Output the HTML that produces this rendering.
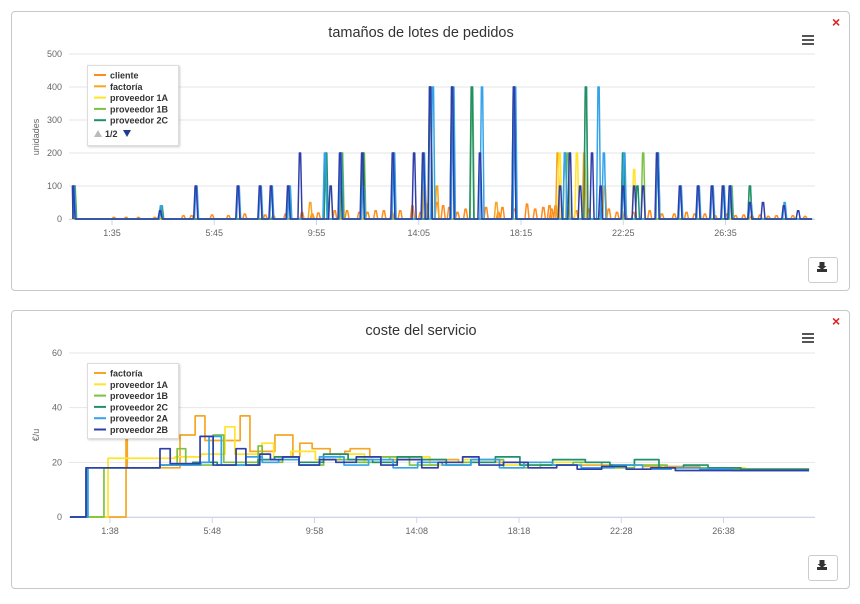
<!DOCTYPE html>
<html><head><meta charset="utf-8">
<style>
body{margin:0;background:#fff;font-family:"Liberation Sans",sans-serif;}
.panel{position:absolute;left:11px;width:837px;border:1px solid #c8c8c8;border-radius:4px;background:#fff;}
.close{position:absolute;color:#d22;font-size:14px;font-weight:bold;}
.dl{position:absolute;width:28px;height:24px;border:1px solid #ccc;border-radius:3px;background:#fff;}
svg{position:absolute;left:0;top:0;}
</style></head>
<body>
<div class="panel" style="top:11px;height:278px"></div>
<div class="panel" style="top:310px;height:277px"></div>
<div class="close" style="left:832px;top:14px">×</div>
<div class="close" style="left:832px;top:313px">×</div>
<div class="dl" style="left:808px;top:257px"></div>
<div class="dl" style="left:808px;top:555px"></div>
<svg id="s" width="860" height="604"></svg>
<script>
// ---- top chart data (minutes, units) ----
const topNames=["cliente","factoría","proveedor 1A","proveedor 1B","proveedor 2C","proveedor 2A","proveedor 2B"];
const topColors=["#ff8c1a","#f5a623","#ffe42a","#7cc242","#1f8f6e","#34a3ea","#2f3ea8"];
const clienteT=[100,130,160,200,270,290,340,380,420,470,490,520,560,585,600,640,670,700,720,740,760,780,800,830,850,865,890,905,920,940,960,1010,1040,1050,1080,1110,1130,1150,1165,1170,1180,1210,1230,1260,1290,1310,1330,1350,1370,1410,1440,1470,1500,1520,1545,1570,1600,1620,1640,1660,1680,1700,1720,1760,1790];
const clienteV=[5,5,5,5,10,10,12,10,15,12,10,15,20,15,18,25,25,20,20,25,25,20,25,40,20,45,50,40,35,20,30,35,20,35,30,45,30,35,40,30,40,30,25,30,25,30,20,25,20,25,15,15,20,15,15,10,15,10,12,10,12,8,10,10,8];
const factT=[580,860,890,1035,1185,1250,1300];
const factV=[50,100,100,50,200,200,100];
const p1aT=[1190,1232,1372];
const p1aV=[200,200,150];
const p1bT=[4,217,658,711,873,976,1210,1254,1394,1610,1655];
const p1bV=[100,40,200,200,400,400,200,400,200,100,100];
const p2cT=[3,216,527,619,656,709,784,874,927,975,1078,1203,1254,1345,1380,1430,1608,1655];
const p2cV=[100,40,100,200,200,200,200,400,400,400,400,200,400,200,100,200,100,100];
const p2aT=[2,215,302,405,459,486,530,616,655,710,785,858,880,930,1000,1081,1203,1285,1298,1348,1430,1486,1530,1564,1591,1608,1657,1740];
const p2aV=[100,40,100,100,100,100,100,200,200,100,200,200,400,400,400,400,200,400,200,200,200,100,100,100,100,100,50,50];
const p2bT=[0,213,300,403,457,484,526,555,630,653,707,782,834,856,873,927,995,1078,1191,1215,1240,1269,1290,1345,1372,1394,1428,1484,1528,1562,1589,1606,1655,1687,1738,1773];
const p2bV=[100,25,100,100,100,100,100,200,100,200,200,200,200,200,400,400,200,400,100,200,100,200,100,100,100,100,200,100,100,100,100,100,50,50,40,25];
const topTicksY=[0,100,200,300,400,500];
const topTicksX=["1:35","5:45","9:55","14:05","18:15","22:25","26:35"];
// ---- bottom chart data (minutes, €/u), step series ----
const botNames=["factoría","proveedor 1A","proveedor 1B","proveedor 2C","proveedor 2A","proveedor 2B"];
const botColors=["#f5a623","#ffe42a","#7cc242","#1f8f6e","#34a3ea","#2f3ea8"];
const factST=[0,137,140,269,306,330,379,416,440,469,501,545,562,592,636,672,685,733,782,856,950,1051,1150,1296,1400,1540,1650,1807];
const factSV=[0,30,18,30,37,28,28,37,24,24,30,22,27,25,23,24,25,22,21,21,20,20,19,19,18.5,18,17.5,17.5];
const p1aST=[0,93,257,320,379,403,460,469,498,540,600,660,720,800,880,960,1050,1150,1250,1350,1450,1550,1650,1807];
const p1aSV=[0,21.5,22,23,33,23,23,27,22,24,21,23,20,22,19,21,19,20,18,19,18,18,17.5,17.5];
const p1bST=[0,83,220,262,283,350,376,400,460,470,520,560,620,700,760,830,900,980,1060,1150,1230,1300,1380,1460,1560,1660,1807];
const p1bSV=[0,18,19,25,19,30,20,20,26,20,22,19,21,20,22,19,20,21,18,19,20,18,19,18,17.5,17.5,17.5];
const p2cST=[0,42,220,300,360,460,500,560,620,680,740,800,860,920,980,1040,1100,1180,1260,1320,1380,1440,1500,1560,1640,1720,1807];
const p2cSV=[0,18,19,20,19,21,22,20,23,21,20,22,21,19,20,22,19,21,20,19,21,18,19,18,17.5,17.5,17.5];
const p2aST=[0,44,220,320,340,370,430,470,510,560,610,670,730,790,850,910,980,1050,1110,1180,1250,1330,1400,1470,1540,1620,1700,1807];
const p2aSV=[0,18,19,20,29.5,19,22,20,21,19,22,19,21,18,20,19,21,18,20,19,18,19,17.5,18,17.5,17,17,17];
const p2bST=[0,39,220,245,318,350,406,430,464,490,520,560,610,650,700,760,800,860,900,960,1000,1060,1120,1190,1240,1300,1360,1420,1480,1560,1640,1720,1807];
const p2bSV=[0,18,25,19.5,29.5,19,25,19,23,21,22,19,21,20,22,19,21,18,20,22,19,20,18,19,17.5,18.5,17.5,18,17,17,17,17,17];
const botTicksY=[0,20,40,60];
const botTicksX=["1:38","5:48","9:58","14:08","18:18","22:28","26:38"];

const NS="http://www.w3.org/2000/svg",S=document.getElementById('s');
function el(t,a,txt){const e=document.createElementNS(NS,t);for(const k in a)e.setAttribute(k,a[k]);if(txt!==undefined)e.textContent=txt;S.appendChild(e);return e;}
function chart(o){
  const x=t=>o.x0+t*o.kx, y=v=>o.y0-(v/o.ymax)*(o.y0-o.yTop);
  o.ticksY.forEach(v=>{const g=el('line',{x1:69,x2:815,y1:y(v),y2:y(v),stroke:'#e6e6e6'});
    
    const t=el('text',{x:62,y:y(v)+3,'text-anchor':'end','font-size':9,fill:'#666'},v);
    });
  const ax=el('line',{x1:69,x2:815,y1:o.y0+0.5,y2:o.y0+0.5,stroke:'#ccd6eb'});
  
  o.ticksX.forEach((s,i)=>{const tx=o.tx0+i*250*o.kx;
    el('line',{x1:tx,x2:tx,y1:o.y0,y2:o.y0+6,stroke:'#ccd6eb'});
    const t=el('text',{x:tx,y:o.y0+17,'text-anchor':'middle','font-size':9,fill:'#666'},s);
    });
  const yt=el('text',{transform:`translate(39,${o.ytY}) rotate(-90)`,'text-anchor':'middle','font-size':9,fill:'#666'},o.ytitle);
  
  const ti=el('text',{x:421,y:o.titleY,'text-anchor':'middle','font-size':14.5,fill:'#333'},o.title);
  
  o.series.forEach((s,i)=>{let d='';
    if(o.spike){d=`M${x(0)},${y(0)}`;s[0].forEach((t,j)=>{const v=s[1][j];
      d+=` L${x(Math.max(0,t-5))},${y(0)} L${x(t-1.5)},${y(v)} L${x(t+1.5)},${y(v)} L${x(t+5)},${y(0)}`;});
      d+=` L${x(o.tEnd)},${y(0)}`;}
    else{s[0].forEach((t,j)=>{const v=s[1][j];
      if(j==0)d=`M${x(t)},${y(v)}`;else d+=` L${x(t)},${y(s[1][j-1])} L${x(t)},${y(v)}`;});}
    const p=el('path',{d:d,fill:'none',stroke:o.colors[i],'stroke-width':o.spike?1.5:1.7,'stroke-linejoin':'round'});
    });
  for(let k=0;k<3;k++)el('rect',{x:802,y:o.titleY-2+k*4,width:12,height:2,fill:'#555'});
  const L=o.legend;
  const lb=el('rect',{x:87.5,y:L.y+0.5,width:91,height:L.h,fill:'#fff',stroke:'#ddd',style:'filter:drop-shadow(1px 1px 1px rgba(0,0,0,0.2))'});
  
  L.names.forEach((n,i)=>{const yy=L.y+10+i*11.3;
    el('line',{x1:94,x2:106,y1:yy,y2:yy,stroke:L.colors[i],'stroke-width':2});
    const t=el('text',{x:110,y:yy+3.5,'font-size':9,'font-weight':'bold',fill:'#333'},n);
    });
  const dy=o.dlY;el('rect',{x:817,y:dy+11,width:10,height:3,fill:'#333'});
  el('path',{d:`M819.5,${dy+4} h5 v4 h2 l-4.5,4 l-4.5,-4 h2 z`,fill:'#333'});
}
chart({x0:73,kx:0.409,y0:219,yTop:54,ymax:500,tx0:112,ticksY:topTicksY,ticksX:topTicksX,title:'tamaños de lotes de pedidos',titleY:37,ytitle:'unidades',ytY:137,spike:true,tEnd:1807,dlY:258,
  names:topNames,colors:topColors,
  series:[[clienteT,clienteV],[factT,factV],[p1aT,p1aV],[p1bT,p1bV],[p2cT,p2cV],[p2aT,p2aV],[p2bT,p2bV]],
  legend:{y:65,h:80,names:topNames.slice(0,5),colors:topColors.slice(0,5)}});
chart({x0:70,kx:0.409,y0:517,yTop:353,ymax:60,tx0:110,ticksY:botTicksY,ticksX:botTicksX,title:'coste del servicio',titleY:335,ytitle:'€/u',ytY:435,spike:false,dlY:556,
  names:botNames,colors:botColors,
  series:[[factST,factSV],[p1aST,p1aSV],[p1bST,p1bSV],[p2cST,p2cSV],[p2aST,p2aSV],[p2bST,p2bSV]],
  legend:{y:363,h:75,names:botNames,colors:botColors}});
el('path',{d:'M94,137 l4,-7 l4,7 z',fill:'#bbb'});
const pg=el('text',{x:105,y:137,'font-size':9,'font-weight':'bold',fill:'#333'},'1/2');

const dn=el('path',{d:'M123,130 l8,0 l-4,7 z',fill:'#1f3a93'});

</script>
</body></html>
